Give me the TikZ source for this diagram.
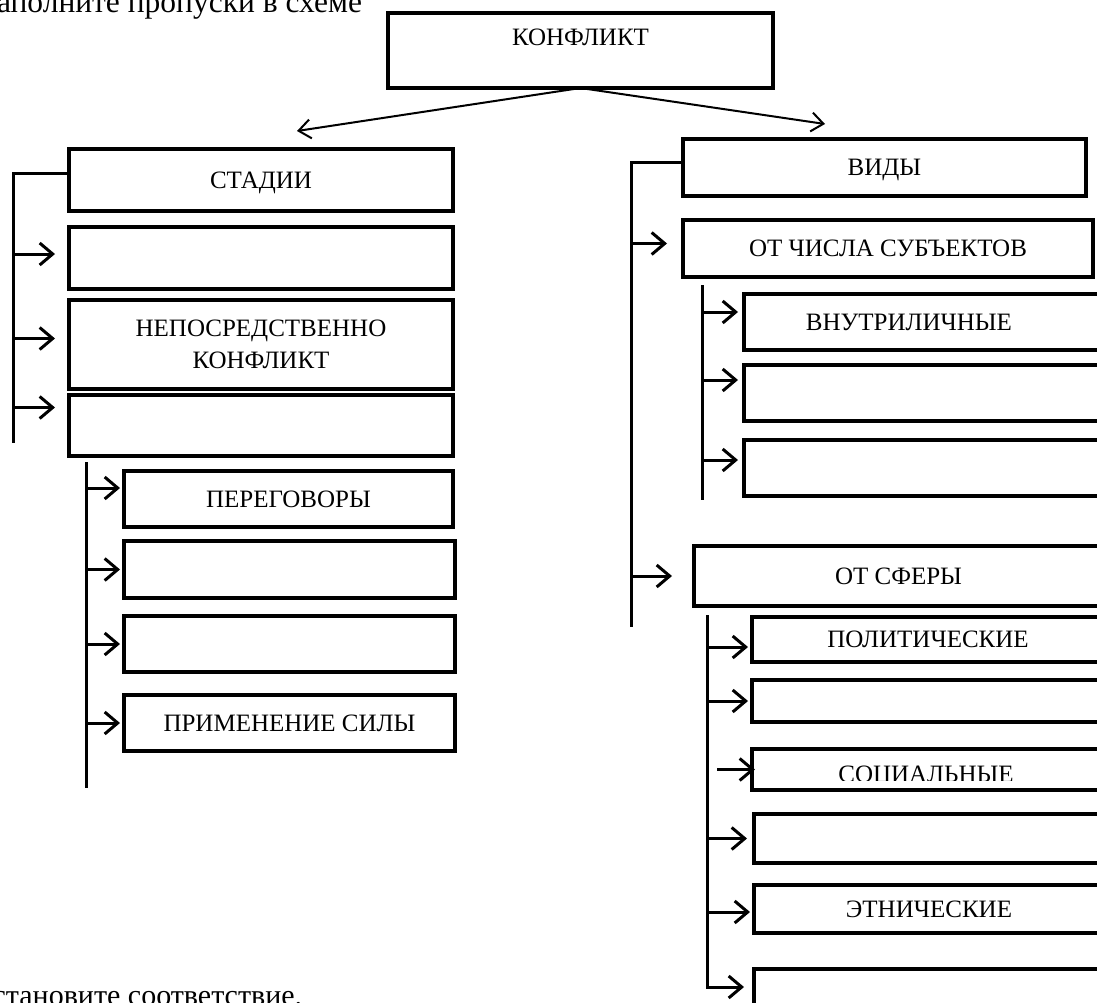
\documentclass[tikz,border=0pt]{standalone}
\usepackage{fontspec}
\setmainfont{Liberation Serif}
\usetikzlibrary{arrows.meta}

\begin{document}
\begin{tikzpicture}[x=1pt, y=-1pt]
\tikzstyle{every node}=[draw, line width=4pt, inner sep=0pt, outer sep=0pt, align=center, text depth=0pt, font=\fontsize{25}{32}\selectfont]
\tikzstyle{arr}=[-{Straight Barb[length=13pt,width=22pt]}, line width=3pt]
\tikzstyle{top}=[-{Straight Barb[length=12pt,width=19pt]}, line width=2pt]
\tikzstyle{bus}=[line width=3pt]
\tikzstyle{txt}=[draw=none, font=\fontsize{31.5}{36}\selectfont]

\useasboundingbox (0,0) rectangle (1097,1002);
\clip (0,0) rectangle (1097,1002);

\node(zad)[txt, anchor=base east] at (362, 12)  {Заполните пропуски в схеме};
\node(ust)[txt, anchor=base west, font=\fontsize{30}{36}\selectfont] at (-25, 1005) {Установите соответствие.};

\node(kf) [minimum width=385pt, minimum height=75pt] at (580.5, 50.5) {КОНФЛИКТ\\[-5pt]\mbox{}};

% stadii
\node(st) [minimum width=384pt, minimum height=62pt] at (261, 180)   {СТАДИИ};
\node(st1)[minimum width=384pt, minimum height=62pt] at (261, 258)   {};
\node(st2)[minimum width=384pt, minimum height=89pt] at (261, 344.5) {НЕПОСРЕДСТВЕННО\\КОНФЛИКТ};
\node(st3)[minimum width=384pt, minimum height=61pt] at (261, 425.5) {};
\node(sp1)[minimum width=329pt, minimum height=56pt] at (288.5, 499) {ПЕРЕГОВОРЫ};
\node(sp2)[minimum width=331pt, minimum height=57pt] at (289.5, 569.5) {};
\node(sp3)[minimum width=331pt, minimum height=56pt] at (289.5, 644) {};
\node(sp4)[minimum width=331pt, minimum height=56pt] at (289.5, 723) {ПРИМЕНЕНИЕ СИЛЫ};

% vidy
\node(vd)  [minimum width=403pt, minimum height=57pt] at (884.5, 167.5) {ВИДЫ};
\node(vd1) [minimum width=410pt, minimum height=57pt] at (888, 248.5)   {ОТ ЧИСЛА СУБЪЕКТОВ};
\node(vd11)[minimum width=362pt, minimum height=56pt] at (925, 322)     {\hspace*{-32pt}ВНУТРИЛИЧНЫЕ};
\node(vd12)[minimum width=362pt, minimum height=56pt] at (925, 393)     {};
\node(vd13)[minimum width=362pt, minimum height=56pt] at (925, 468)     {};
\node(vd2) [minimum width=409pt, minimum height=60pt] at (898.5, 576)   {ОТ СФЕРЫ};
\node(vd21)[minimum width=352pt, minimum height=45pt] at (928, 639.5)   {ПОЛИТИЧЕСКИЕ};
\node(vd22)[minimum width=352pt, minimum height=42pt] at (928, 701)     {};
\node(vd23)[minimum width=352pt, minimum height=41pt] at (928, 769.5)   {};
\node(vd24)[minimum width=350pt, minimum height=49pt] at (929, 838.5)   {};
\node(vd25)[minimum width=350pt, minimum height=48pt] at (929, 909)     {ЭТНИЧЕСКИЕ};
\node(vd26)[minimum width=350pt, minimum height=61pt] at (929, 999.5)   {};

\begin{scope}
\clip (vd23.north west) rectangle (1097, 780);
\node(soc)[draw=none] at (926, 774) {СОЦИАЛЬНЫЕ};
\end{scope}

% bus ends and arrow tips
\coordinate (lb)  at (13, 443);
\coordinate (lt)  at (86, 462);
\coordinate (lbb) at (86, 788);
\coordinate (rb)  at (631, 627);
\coordinate (r1)  at (702, 285);
\coordinate (r1b) at (702, 500);
\coordinate (r2)  at (707, 615);
\coordinate (tl)  at (297, 131);
\coordinate (tr)  at (825, 124);
\coordinate (a1)  at ([xshift=-14pt, yshift=4pt]st1.west);
\coordinate (a2)  at ([xshift=-14pt, yshift=6pt]st2.west);
\coordinate (a3)  at ([xshift=-14pt, yshift=18pt]st3.west);
\coordinate (p1)  at ([xshift=-4pt, yshift=11pt]sp1.west);
\coordinate (p2)  at ([xshift=-4pt]sp2.west);
\coordinate (p3)  at ([xshift=-4pt]sp3.west);
\coordinate (p4)  at ([xshift=-4pt]sp4.west);
\coordinate (b1)  at ([xshift=-16pt, yshift=5pt]vd1.west);
\coordinate (b2)  at ([xshift=-22pt]vd2.west);
\coordinate (c1)  at ([xshift=-6pt, yshift=10pt]vd11.west);
\coordinate (c2)  at ([xshift=-6pt, yshift=13pt]vd12.west);
\coordinate (c3)  at ([xshift=-6pt, yshift=8pt]vd13.west);
\coordinate (d1)  at ([xshift=-4pt, yshift=-7.5pt]vd21.west);
\coordinate (d2)  at ([xshift=-4pt]vd22.west);
\coordinate (d4)  at ([xshift=-7pt]vd24.west);
\coordinate (d5)  at ([xshift=-4pt, yshift=-3pt]vd25.west);
\coordinate (d6)  at ([xshift=-10pt, yshift=12.5pt]vd26.west);

\draw[top] (kf.south) -- (tl);
\draw[top] (kf.south) -- (tr);

\draw[bus] ([yshift=7pt]st.west) -| (lb);
\draw[arr] (lb |- a1) -- (a1);
\draw[arr] (lb |- a2) -- (a2);
\draw[arr] (lb |- a3) -- (a3);

\draw[bus] (lt) -- (lbb);
\draw[arr] (lt |- p1) -- (p1);
\draw[arr] (lt |- p2) -- (p2);
\draw[arr] (lt |- p3) -- (p3);
\draw[arr] (lt |- p4) -- (p4);

\draw[bus] ([yshift=5pt]vd.west) -| (rb);
\draw[arr] (rb |- b1) -- (b1);
\draw[arr] (rb |- b2) -- (b2);

\draw[bus] (r1) -- (r1b);
\draw[arr] (r1 |- c1) -- (c1);
\draw[arr] (r1 |- c2) -- (c2);
\draw[arr] (r1 |- c3) -- (c3);

\draw[arr] (r2) |- (d6);
\draw[arr] (r2 |- d1) -- (d1);
\draw[arr] (r2 |- d2) -- (d2);
\draw[arr] ([xshift=-35pt]vd23.west) -- ([xshift=3pt]vd23.west);
\draw[arr] (r2 |- d4) -- (d4);
\draw[arr] (r2 |- d5) -- (d5);

\end{tikzpicture}
\end{document}
